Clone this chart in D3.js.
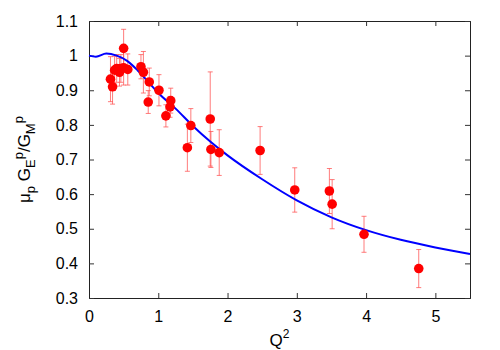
<!DOCTYPE html>
<html>
<head>
<meta charset="utf-8">
<script src="https://cdn.jsdelivr.net/npm/d3@7"></script>
<style>
  body { margin: 0; background: #fff; }
  text { font-family: "Liberation Sans", Arial, sans-serif; fill: #000; }
</style>
</head>
<body>
<svg id="chart" width="500" height="350"></svg>
<script>
// measured points: Q^2, ratio, error
const qsq   = [0.31, 0.34, 0.37, 0.40, 0.44, 0.46, 0.50, 0.50, 0.56, 0.75, 0.785, 0.87, 0.855, 1.01, 1.11, 1.18, 1.17, 1.42, 1.47, 1.75, 1.76, 1.88, 2.47, 2.97, 3.47, 3.51, 3.97, 4.76];
const ratio = [0.932, 0.910, 0.958, 0.963, 0.952, 0.963, 1.021, 0.965, 0.960, 0.968, 0.952, 0.924, 0.866, 0.900, 0.826, 0.870, 0.852, 0.734, 0.798, 0.817, 0.729, 0.720, 0.726, 0.612, 0.609, 0.571, 0.484, 0.385];
const err   = [0.065, 0.05, 0.04, 0.04, 0.04, 0.04, 0.055, 0.05, 0.045, 0.035, 0.06, 0.04, 0.033, 0.045, 0.032, 0.036, 0.03, 0.068, 0.049, 0.136, 0.052, 0.066, 0.069, 0.064, 0.065, 0.071, 0.052, 0.055];

// fit curve
const curveQ = [0, 0.1, 0.25, 0.4, 0.55, 0.7, 0.85, 1.0, 1.25, 1.5, 1.75, 2.0, 2.5, 3.0, 3.5, 4.0, 4.5, 5.0, 5.5];
const curveR = [1.0, 0.997, 1.006, 1.0, 0.985, 0.958, 0.925, 0.892, 0.847, 0.797, 0.752, 0.712, 0.643, 0.582, 0.533, 0.496, 0.468, 0.446, 0.427];

const xTicks = [0, 1, 2, 3, 4, 5];
const yTicks = [0.3, 0.4, 0.5, 0.6, 0.7, 0.8, 0.9, 1, 1.1];

const svg = d3.select('#chart');
const margin = { top: 21, right: 30, bottom: 52, left: 89 };
const width = 500 - margin.left - margin.right;
const height = 350 - margin.top - margin.bottom;
const g = svg.append('g').attr('transform', `translate(${margin.left},${margin.top})`);

const x = d3.scaleLinear().domain([0, 5.5]).range([0, width]);
const y = d3.scaleLinear().domain([0.3, 1.1]).range([height, 0]);

const data = qsq.map((q, i) => ({ q, r: ratio[i], e: err[i] }));
const curve = curveQ.map((q, i) => ({ q, r: curveR[i] }));

// axes, ticks pointing inward on all four sides
const fmt = d => (d === 1 ? '1' : d3.format('.1f')(d));
g.append('g')
  .attr('transform', `translate(0,${height})`)
  .call(d3.axisBottom(x).tickValues(xTicks).tickSize(-5).tickPadding(12.5).tickFormat(d3.format('d')));
g.append('g')
  .call(d3.axisTop(x).tickValues(xTicks).tickSize(-5).tickFormat(''));
g.append('g')
  .call(d3.axisLeft(y).tickValues(yTicks).tickSize(-5).tickPadding(11).tickFormat(fmt));
g.append('g')
  .attr('transform', `translate(${width},0)`)
  .call(d3.axisRight(y).tickValues(yTicks).tickSize(-5).tickFormat(''));

g.selectAll('.domain').attr('stroke', '#222');
g.selectAll('.tick line').attr('stroke', '#333');
g.selectAll('.tick text').style('font-size', '16px').attr('fill', '#000');

// error bars
const bars = g.append('g').attr('stroke', '#ff5050').attr('stroke-opacity', 0.75).attr('stroke-width', 1);
bars.selectAll('.eb').data(data).enter().append('line')
  .attr('x1', d => x(d.q)).attr('x2', d => x(d.q))
  .attr('y1', d => y(d.r - d.e)).attr('y2', d => y(d.r + d.e));
bars.selectAll('.cap-top').data(data).enter().append('line')
  .attr('x1', d => x(d.q) - 2.5).attr('x2', d => x(d.q) + 2.5)
  .attr('y1', d => y(d.r + d.e)).attr('y2', d => y(d.r + d.e));
bars.selectAll('.cap-bot').data(data).enter().append('line')
  .attr('x1', d => x(d.q) - 2.5).attr('x2', d => x(d.q) + 2.5)
  .attr('y1', d => y(d.r - d.e)).attr('y2', d => y(d.r - d.e));

// fit line
const line = d3.line()
  .curve(d3.curveMonotoneX)
  .x(d => x(d.q))
  .y(d => y(d.r));
g.append('path')
  .datum(curve)
  .attr('d', line)
  .attr('fill', 'none')
  .attr('stroke', '#0000ff')
  .attr('stroke-width', 2);

// points
g.selectAll('.pt').data(data).enter().append('circle')
  .attr('cx', d => x(d.q))
  .attr('cy', d => y(d.r))
  .attr('r', 4.8)
  .attr('fill', '#ff0000');

// x label
const xl = svg.append('text')
  .attr('x', margin.left + width / 2)
  .attr('y', 346)
  .attr('text-anchor', 'middle')
  .style('font-size', '17px');
xl.append('tspan').text('Q');
xl.append('tspan').attr('dy', -8).style('font-size', '12px').text('2');

// y label with sub/superscripts
const yl = svg.append('text')
  .attr('transform', `translate(30,${margin.top + height / 2}) rotate(-90)`)
  .attr('text-anchor', 'middle')
  .style('font-size', '17px');
yl.append('tspan').text('μ');
yl.append('tspan').attr('dy', 5).style('font-size', '13px').text('p');
yl.append('tspan').attr('dy', -5).text(' G');
yl.append('tspan').attr('dy', 5).style('font-size', '13px').text('E');
yl.append('tspan').attr('dy', -12).style('font-size', '13px').text('p');
yl.append('tspan').attr('dy', 7).text('/G');
yl.append('tspan').attr('dy', 5).style('font-size', '13px').text('M');
yl.append('tspan').attr('dy', -12).style('font-size', '13px').text('p');
</script>
</body>
</html>
